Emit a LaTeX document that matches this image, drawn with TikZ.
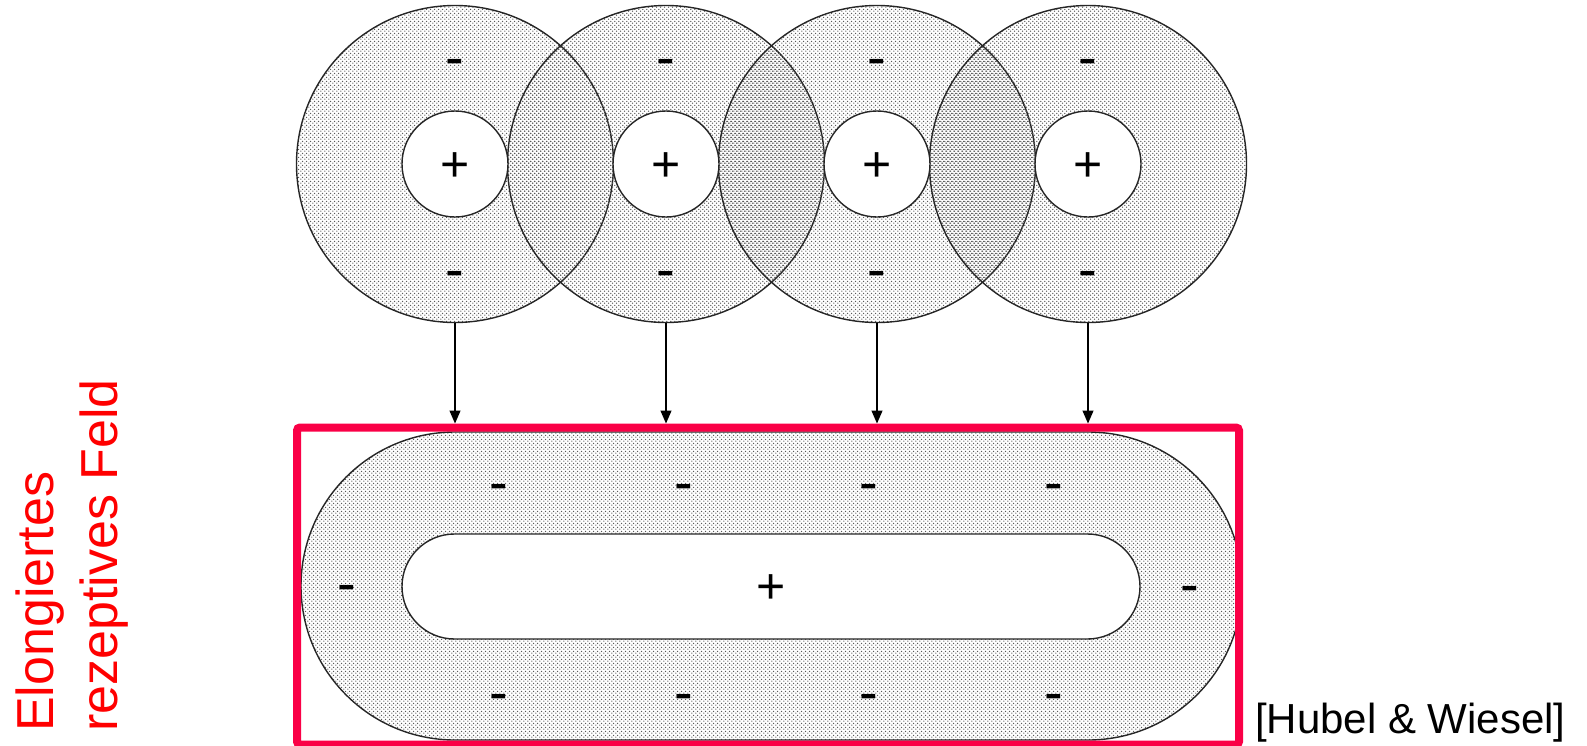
\documentclass[tikz,border=0pt]{standalone}
\usepackage{fontspec}
\setmainfont{Liberation Sans}
\usetikzlibrary{patterns,patterns.meta,arrows.meta}
\definecolor{framered}{RGB}{250,0,70}
\tikzdeclarepattern{
  name=stip,
  type=uncolored,
  bottom left={(0pt,0pt)},
  top right={(3.7pt,3.7pt)},
  tile size={(3.7pt,3.7pt)},
  code={
    \fill (0.925pt,0.925pt) circle (0.75pt);
    \fill (2.775pt,2.775pt) circle (0.75pt);
  }
}
\tikzdeclarepattern{
  name=stipb,
  type=uncolored,
  bottom left={(0pt,0pt)},
  top right={(3.7pt,3.7pt)},
  tile size={(3.7pt,3.7pt)},
  code={
    \fill (2.775pt,0.925pt) circle (0.75pt);
    \fill (0.925pt,2.775pt) circle (0.75pt);
  }
}
\begin{document}
\begin{tikzpicture}[x=1pt,y=-1pt,
  field/.style={pattern=stip, pattern color=black!65},
  fieldb/.style={pattern=stipb, pattern color=black!65},
  rim/.style={draw=black!85, line width=1.4pt},
  outerring/.style={circle, minimum size=317pt, inner sep=0, outer sep=0, rim},
  centre/.style={circle, minimum size=106pt, inner sep=0, outer sep=0, rim, fill=white},
  minussign/.style={font=\fontsize{56}{56}\selectfont, inner sep=0, anchor=base},
  plussign/.style={font=\fontsize{50}{50}\selectfont, inner sep=0, anchor=base},
  feed/.style={line width=1.2pt, -{Triangle[length=13pt,width=11pt]}, shorten >=4pt},
]
\useasboundingbox (0,0) rectangle (1587,745);

% top receptive fields
\node[outerring, field]  (c1) at (455,164) {};
\node[outerring, fieldb] (c2) at (666,164) {};
\node[outerring, field]  (c3) at (877,164) {};
\node[outerring, fieldb] (c4) at (1088,164) {};
\foreach \i/\x in {1/455,2/666,3/877,4/1088} {
  \node[centre] (z\i) at (\x,164) {};
  \node[plussign] (p\i) at (\x,181) {+};
  \node[minussign] (t\i) at (\x,76.5) {-};
  \node[minussign] (b\i) at (\x,288.5) {-};
}

% elongated field
\path[field, rim, rounded corners=154pt] (301,432) rectangle (1242,740);
\path[fill=white, rim, rounded corners=52.5pt] (402,534) rectangle (1140,639);

\node[draw=framered, line width=8pt, rounded corners=3pt, minimum width=942pt,
      minimum height=317pt, inner sep=0, outer sep=0] (frame) at (768,586) {};

\foreach \i/\x in {1/499,2/684,3/869,4/1054} {
  \node[minussign] (st\i) at (\x,501.5) {-};
  \node[minussign] (sb\i) at (\x,711.5) {-};
}
\node[minussign] (sl) at (347,602.5) {-};
\node[minussign] (sr) at (1190,603.5) {-};
\node[plussign] (sp) at (771,603) {+};

% connectors
\foreach \i in {1,...,4}
  \draw[feed] (c\i) -- (c\i |- frame.north);

% labels
\node[font=\fontsize{52}{60}\selectfont, text=red, rotate=90, anchor=base west, inner sep=0] (l1) at (53,732) {Elongiertes};
\node[font=\fontsize{52}{60}\selectfont, text=red, rotate=90, anchor=base west, inner sep=0] (l2) at (117,732) {rezeptives Feld};
\node[font=\fontsize{42}{48}\selectfont, anchor=base west, inner sep=0] (ref) at (1255,733) {[Hubel \& Wiesel]};
\end{tikzpicture}
\end{document}
